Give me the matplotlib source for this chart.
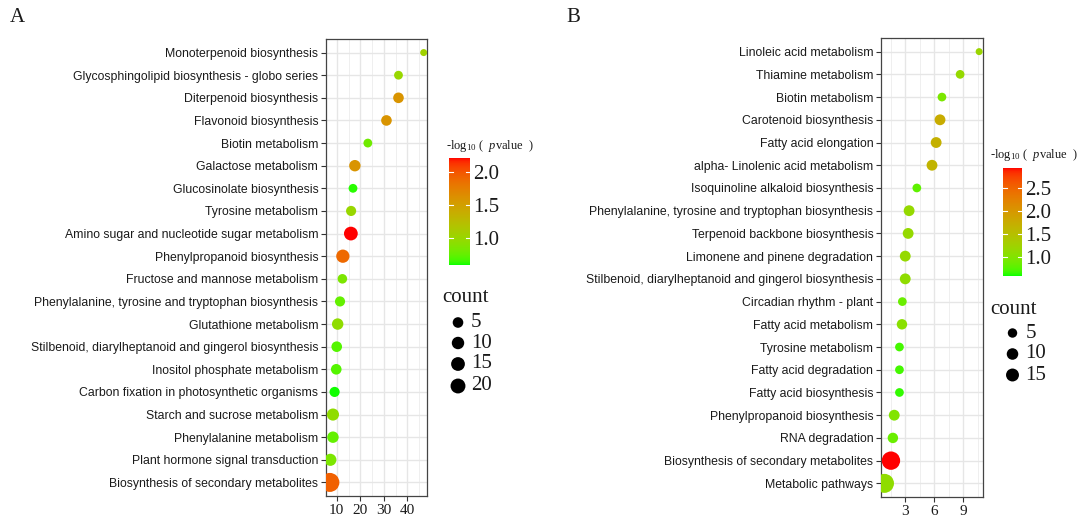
import numpy as np
import matplotlib
matplotlib.use("Agg")
import matplotlib.pyplot as plt
from matplotlib.colors import ListedColormap, Normalize
from matplotlib.cm import ScalarMappable

plt.rcParams['mathtext.fontset'] = 'custom'
plt.rcParams['mathtext.rm'] = 'Liberation Serif'
plt.rcParams['mathtext.it'] = 'Liberation Serif:italic'

# ---------------- data ----------------
cats_A = ["Monoterpenoid biosynthesis",
          "Glycosphingolipid biosynthesis - globo series",
          "Diterpenoid biosynthesis", "Flavonoid biosynthesis",
          "Biotin metabolism", "Galactose metabolism",
          "Glucosinolate biosynthesis", "Tyrosine metabolism",
          "Amino sugar and nucleotide sugar metabolism",
          "Phenylpropanoid biosynthesis", "Fructose and mannose metabolism",
          "Phenylalanine, tyrosine and tryptophan biosynthesis",
          "Glutathione metabolism",
          "Stilbenoid, diarylheptanoid and gingerol biosynthesis",
          "Inositol phosphate metabolism",
          "Carbon fixation in photosynthetic organisms",
          "Starch and sucrose metabolism", "Phenylalanine metabolism",
          "Plant hormone signal transduction",
          "Biosynthesis of secondary metabolites"]
x_A = [46.9, 36.2, 36.2, 31.1, 23.2, 17.7, 16.9, 16.1, 16.0, 12.6,
       12.4, 11.4, 10.4, 10.0, 9.8, 9.1, 8.4, 8.4, 7.3, 7.1]
count_A = [1, 2, 5, 5, 2, 7, 2, 4, 15, 13, 3, 4, 7, 5, 5, 4, 9, 7, 9, 45]
logp_A = [1.05, 1.0, 1.6, 1.6, 0.8, 1.6, 0.62, 1.0, 2.22, 1.9,
          0.85, 0.75, 0.95, 0.7, 0.7, 0.6, 0.95, 0.75, 0.85, 1.95]
cb_range_A = (0.59, 2.22)
cb_ticks_A = [1.0, 1.5, 2.0]
size_breaks_A = [5, 10, 15, 20]
xticks_A = [10, 20, 30, 40]

cats_B = ["Linoleic acid metabolism", "Thiamine metabolism",
          "Biotin metabolism", "Carotenoid biosynthesis",
          "Fatty acid elongation", "alpha- Linolenic acid metabolism",
          "Isoquinoline alkaloid biosynthesis",
          "Phenylalanine, tyrosine and tryptophan biosynthesis",
          "Terpenoid backbone biosynthesis",
          "Limonene and pinene degradation",
          "Stilbenoid, diarylheptanoid and gingerol biosynthesis",
          "Circadian rhythm - plant", "Fatty acid metabolism",
          "Tyrosine metabolism", "Fatty acid degradation",
          "Fatty acid biosynthesis", "Phenylpropanoid biosynthesis",
          "RNA degradation", "Biosynthesis of secondary metabolites",
          "Metabolic pathways"]
x_B = [10.65, 8.68, 6.8, 6.6, 6.2, 5.77, 4.2, 3.4, 3.3, 3.0,
       3.0, 2.7, 2.66, 2.4, 2.4, 2.4, 1.86, 1.72, 1.52, 0.85]
count_B = [3, 4, 4, 8, 8, 8, 4, 8, 8, 8, 8, 4, 7, 4, 4, 4, 8, 7, 47, 52]
logp_B = [1.2, 1.15, 0.95, 1.75, 1.7, 1.65, 0.8, 1.15, 1.15, 1.15,
          1.1, 0.85, 1.05, 0.7, 0.7, 0.65, 1.0, 0.85, 2.94, 1.1]
cb_range_B = (0.59, 2.94)
cb_ticks_B = [1.0, 1.5, 2.0, 2.5]
size_breaks_B = [5, 10, 15]
xticks_B = [3, 6, 9]

# ---------------- helpers ----------------
W, H, DPI = 1081, 517, 100


def fx(px):
    return px / W


def fy(py):
    return 1 - py / H


def rect(l, t, r, b):
    return [fx(l), fy(b), (r - l) / W, (b - t) / H]


def _f(t):
    d = 6 / 29
    return np.where(t > d ** 3, np.cbrt(t), t / (3 * d * d) + 4 / 29)


def _finv(t):
    d = 6 / 29
    return np.where(t > d, t ** 3, 3 * d * d * (t - 4 / 29))


M = np.array([[0.4124564, 0.3575761, 0.1804375],
              [0.2126729, 0.7151522, 0.0721750],
              [0.0193339, 0.1191920, 0.9503041]])
WP = np.array([0.95047, 1.0, 1.08883])


def to_lab(rgb):
    c = np.asarray(rgb, float)
    lin = np.where(c <= 0.04045, c / 12.92, ((c + 0.055) / 1.055) ** 2.4)
    xyz = M @ lin / WP
    fxx, fyy, fzz = _f(xyz)
    return np.array([116 * fyy - 16, 500 * (fxx - fyy), 200 * (fyy - fzz)])


def from_lab(lab):
    L, a, b = lab
    fyy = (L + 16) / 116
    xyz = np.array([_finv(fyy + a / 500), _finv(fyy), _finv(fyy - b / 200)]) * WP
    lin = np.linalg.inv(M) @ xyz
    lin = np.clip(lin, 0, 1)
    c = np.where(lin <= 0.0031308, 12.92 * lin, 1.055 * lin ** (1 / 2.4) - 0.055)
    return np.clip(c, 0, 1)


lo, hi = to_lab([0, 1, 0]), to_lab([1, 0, 0])
cmap = ListedColormap([from_lab(lo + (hi - lo) * t) for t in np.linspace(0, 1, 256)])

SERIF = 'Liberation Serif'
SANS = 'Liberation Sans'


def make_area(counts, r0, r1):
    cmin, cmax = min(counts), max(counts)

    def area(c):
        c = np.asarray(c, float)
        d = r0 + (r1 - r0) * np.sqrt(np.clip((c - cmin) / (cmax - cmin), 0, 1))
        return (d * 72 / DPI) ** 2
    return area


fig = plt.figure(figsize=(W / DPI, H / DPI), dpi=DPI)


def panel(cats, xs, counts, logp, cbr, cbt, breaks, xt, ax_rect, xlim, minor,
          r0, r1, cb_rect, cb_title_xy, count_xy, leg_x, leg_ys, label, label_xy):
    area = make_area(counts, r0, r1)
    ax = fig.add_axes(rect(*ax_rect))
    n = len(cats)
    ys = np.arange(n)[::-1]
    norm = Normalize(*cbr)
    ax.set_axisbelow(True)
    ax.scatter(xs, ys, s=area(counts), c=logp, cmap=cmap, norm=norm,
               edgecolors='none', zorder=3)
    ax.set_xlim(*xlim)
    ax.set_ylim(-0.6, n - 0.4)
    ax.set_yticks(ys)
    ax.set_yticklabels(cats, fontfamily=SANS, fontsize=8.8, color='#1a1a1a')
    ax.set_xticks(xt)
    ax.set_xticklabels([str(v) for v in xt], fontfamily=SERIF, fontsize=11, color='#1a1a1a')
    ax.set_xticks(minor, minor=True)
    ax.tick_params(axis='both', which='major', length=3.5, width=0.8, color='#333333', pad=2)
    ax.tick_params(axis='x', which='minor', length=0)
    ax.grid(True, which='major', color='#E6E6E6', lw=1.0)
    ax.grid(True, which='minor', axis='x', color='#EDEDED', lw=0.6)
    for sp in ax.spines.values():
        sp.set_color('#444444')
        sp.set_linewidth(0.9)

    cax = fig.add_axes(rect(*cb_rect))
    cb = fig.colorbar(ScalarMappable(norm=norm, cmap=cmap), cax=cax)
    cb.outline.set_visible(False)
    cb.set_ticks(cbt)
    cb.ax.tick_params(length=0, pad=2)
    for t in cb.ax.get_yticklabels():
        t.set_fontfamily(SERIF)
        t.set_fontsize(15)
        t.set_color('#1a1a1a')
    for v in cbt:
        cax.plot([0, 0.2], [v, v], color='white', lw=0.8, transform=cax.get_yaxis_transform())
        cax.plot([0.8, 1.0], [v, v], color='white', lw=0.8, transform=cax.get_yaxis_transform())
    fig.text(fx(cb_title_xy[0]), fy(cb_title_xy[1]), r'-log$_{10}$ (  $\it{p}$value  )',
             fontsize=9, fontfamily=SERIF, va='center', ha='left', color='#1a1a1a')

    fig.text(fx(count_xy[0]), fy(count_xy[1]), 'count', fontsize=15, fontfamily=SERIF,
             va='center', ha='left', color='#1a1a1a')
    lax = fig.add_axes([0, 0, 1, 1], facecolor='none')
    lax.set_xlim(0, W)
    lax.set_ylim(H, 0)
    lax.axis('off')
    for b, yy in zip(breaks, leg_ys):
        lax.scatter([leg_x], [yy], s=area([b]), color='black', edgecolors='none')
        lax.text(leg_x + 13, yy, str(b), fontsize=15, fontfamily=SERIF, va='center',
                 ha='left', color='#1a1a1a')
    fig.text(fx(label_xy[0]), fy(label_xy[1]), label, fontsize=15, fontfamily=SERIF,
             va='center', ha='left', color='#1a1a1a')


panel(cats_A, x_A, count_A, logp_A, cb_range_A, cb_ticks_A, size_breaks_A, xticks_A,
      (326, 39, 427, 496), (5.45, 48.3), [15, 25, 35, 45], 7.0, 19.0,
      (449, 158, 470, 265), (446, 146), (442, 298), 458, [322.5, 343, 364, 386], 'A', (10, 18))
panel(cats_B, x_B, count_B, logp_B, cb_range_B, cb_ticks_B, size_breaks_B, xticks_B,
      (881, 38, 983, 497), (0.49, 11.05), [1.5, 4.5, 7.5, 10.5], 7.0, 19.0,
      (1003, 168, 1022, 276), (990, 155), (990, 309), 1012.5, [333, 354, 375], 'B', (566, 18))

fig.savefig('out.png', dpi=DPI)
